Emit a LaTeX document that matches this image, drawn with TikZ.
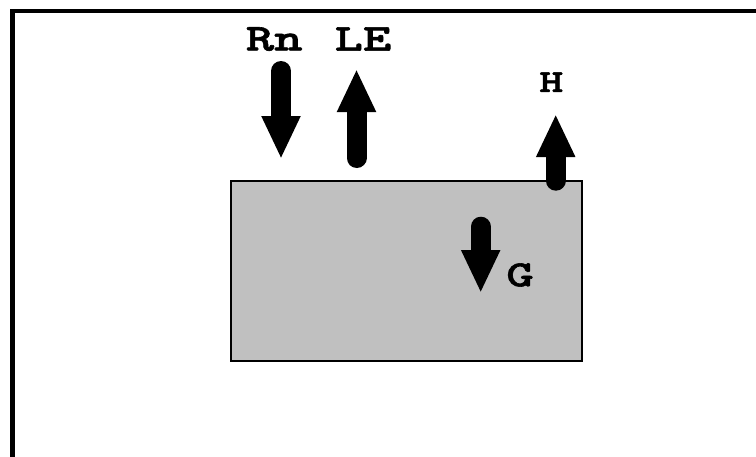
\documentclass[tikz,border=0pt]{standalone}
\usepackage{fontspec}
\usetikzlibrary{arrows.meta}
\newfontfamily\lblfont{lmmonolt10-bold.otf}[FakeBold=1.6, FakeStretch=1.42]
\newcommand{\lbltext}[2]{\fontsize{#1}{#1}\selectfont #2}
\tikzset{
  frameline/.style={line width=4.4pt, line cap=rect},
  soil/.style={draw=black, line width=2pt, fill={rgb,255:red,192;green,192;blue,192}},
  flux/.style={line width=20pt, line cap=round, -{Triangle[length=43pt,width=36pt]}},
  lbl/.style={inner sep=0pt, font=\lblfont},
}
\begin{document}
\begin{tikzpicture}[x=1pt,y=-1pt]
\useasboundingbox (0,0) rectangle (756,456);
\draw[frameline] (12.6,470) -- (12.6,11.2) -- (770,11.2);
\node[soil, minimum width=351pt, minimum height=180pt, inner sep=0pt] (box) at (406,270.5) {};
\coordinate (rn0) at (281,71);   \coordinate (rn1) at (281,159);
\coordinate (le0) at (356.5,158); \coordinate (le1) at (356.5,69);
\coordinate (h0) at (555.7,180.7); \coordinate (h1) at (555.7,114);
\coordinate (g0) at (480.7,226.7); \coordinate (g1) at (480.7,293);
\draw[flux] (rn0) -- (rn1);
\draw[flux] (le0) -- (le1);
\draw[flux] (h0) -- (h1);
\draw[flux] (g0) -- (g1);
\node[lbl] (rn) at (274.2,39) {\lbltext{38}{Rn}};
\node[lbl] (le) at (363,39) {\lbltext{38}{LE}};
\node[lbl] (h) at (551.3,82.2) {\lbltext{32}{H}};
\node[lbl] (g) at (520,275) {\lbltext{37}{G}};
\end{tikzpicture}
\end{document}
